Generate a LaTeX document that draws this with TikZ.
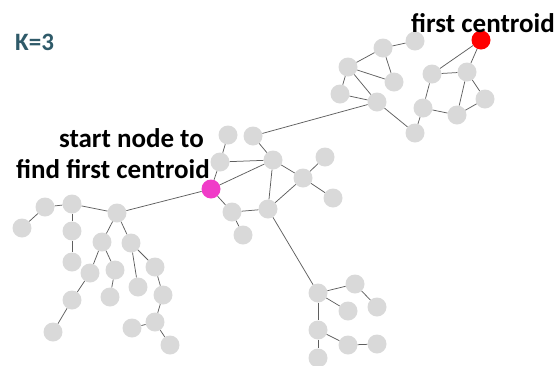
\documentclass[tikz,border=0pt]{standalone}
\usepackage{fontspec}
\setmainfont{Carlito}
\begin{document}
\begin{tikzpicture}[x=1pt,y=-1pt,
  vtx/.style={circle,fill=vgray,inner sep=0pt,minimum size=19pt},
  edge/.style={draw=egray,line width=0.75pt},
  lbl/.style={font=\bfseries\fontsize{27}{30}\selectfont,text=black,inner sep=0pt}]
\definecolor{vgray}{RGB}{217,217,217}
\definecolor{egray}{RGB}{95,95,95}
\definecolor{kteal}{RGB}{47,90,105}
\useasboundingbox (0,0) rectangle (558,365);
% vertices
\foreach \n/\x/\y in {a1/415/41,a2/383/48,a3/348/67,a4/394/82,a5/340/94,a6/377/102,a7/415/133,
  b1/432/74,b2/467/72,b3/423/108,b4/457/115,b5/485/99,
  c1/228/135,c2/253/136,c3/220/162,c4/273/160,c5/325/157,c6/303/178,c7/333/198,
  c8/232/212,c9/268/209,c10/243/235,
  d1/318/293,d2/355/284,d3/377/307,d4/348/311,d5/318/330,d6/348/345,d7/377/344,d8/318/358,
  e1/22/228,e2/45/207,e3/72/204,e4/117/213,e5/72/231,e6/72/262,e7/102/242,e8/131/243,
  e9/90/273,e10/115/270,e11/138/287,e12/155/267,e13/72/300,e14/110/297,e15/163/295,
  e16/53/332,e17/155/322,e18/132/328,e19/170/345}
  \node[vtx] (\n) at (\x,\y) {};
\node[vtx,fill=red] (r) at (481,40) {};
\node[vtx,fill={rgb,255:red,240;green,60;blue,200}] (m) at (211,189) {};
% connectors
\foreach \u/\v in {a1/a2,a2/a3,a2/a4,a3/a4,a3/a5,a3/a6,a5/a6,a6/a7,a7/b3,
  b1/b3,b1/b2,b1/r,b2/r,b2/b4,b2/b5,b3/b4,b4/b5,
  a6/c2,c1/c3,c2/c4,c3/c4,c3/m,m/c4,c4/c6,c4/c9,c6/c5,c6/c7,c6/c9,c8/c9,m/c8,c8/c10,
  c9/d1,d1/d2,d2/d3,d1/d4,d1/d5,d5/d6,d6/d7,d5/d8,
  m/e4,e1/e2,e2/e3,e3/e4,e3/e5,e5/e6,e4/e7,e4/e8,e7/e9,e7/e10,e9/e13,e13/e16,
  e10/e14,e8/e11,e8/e12,e12/e15,e15/e17,e17/e18,e17/e19}
  \draw[edge] (\u) -- (\v);
% labels
\node[lbl,font=\bfseries\fontsize{25}{28}\selectfont,text=kteal,anchor=base west] (k) at (15,50) {K=3};
\node[lbl,anchor=base east] (s1) at (204,147) {start node to};
\node[lbl,anchor=base east] (s2) at (210,178) {find first centroid};
\node[lbl,anchor=base east] (fc) at (555,32) {first centroid};
\end{tikzpicture}
\end{document}
